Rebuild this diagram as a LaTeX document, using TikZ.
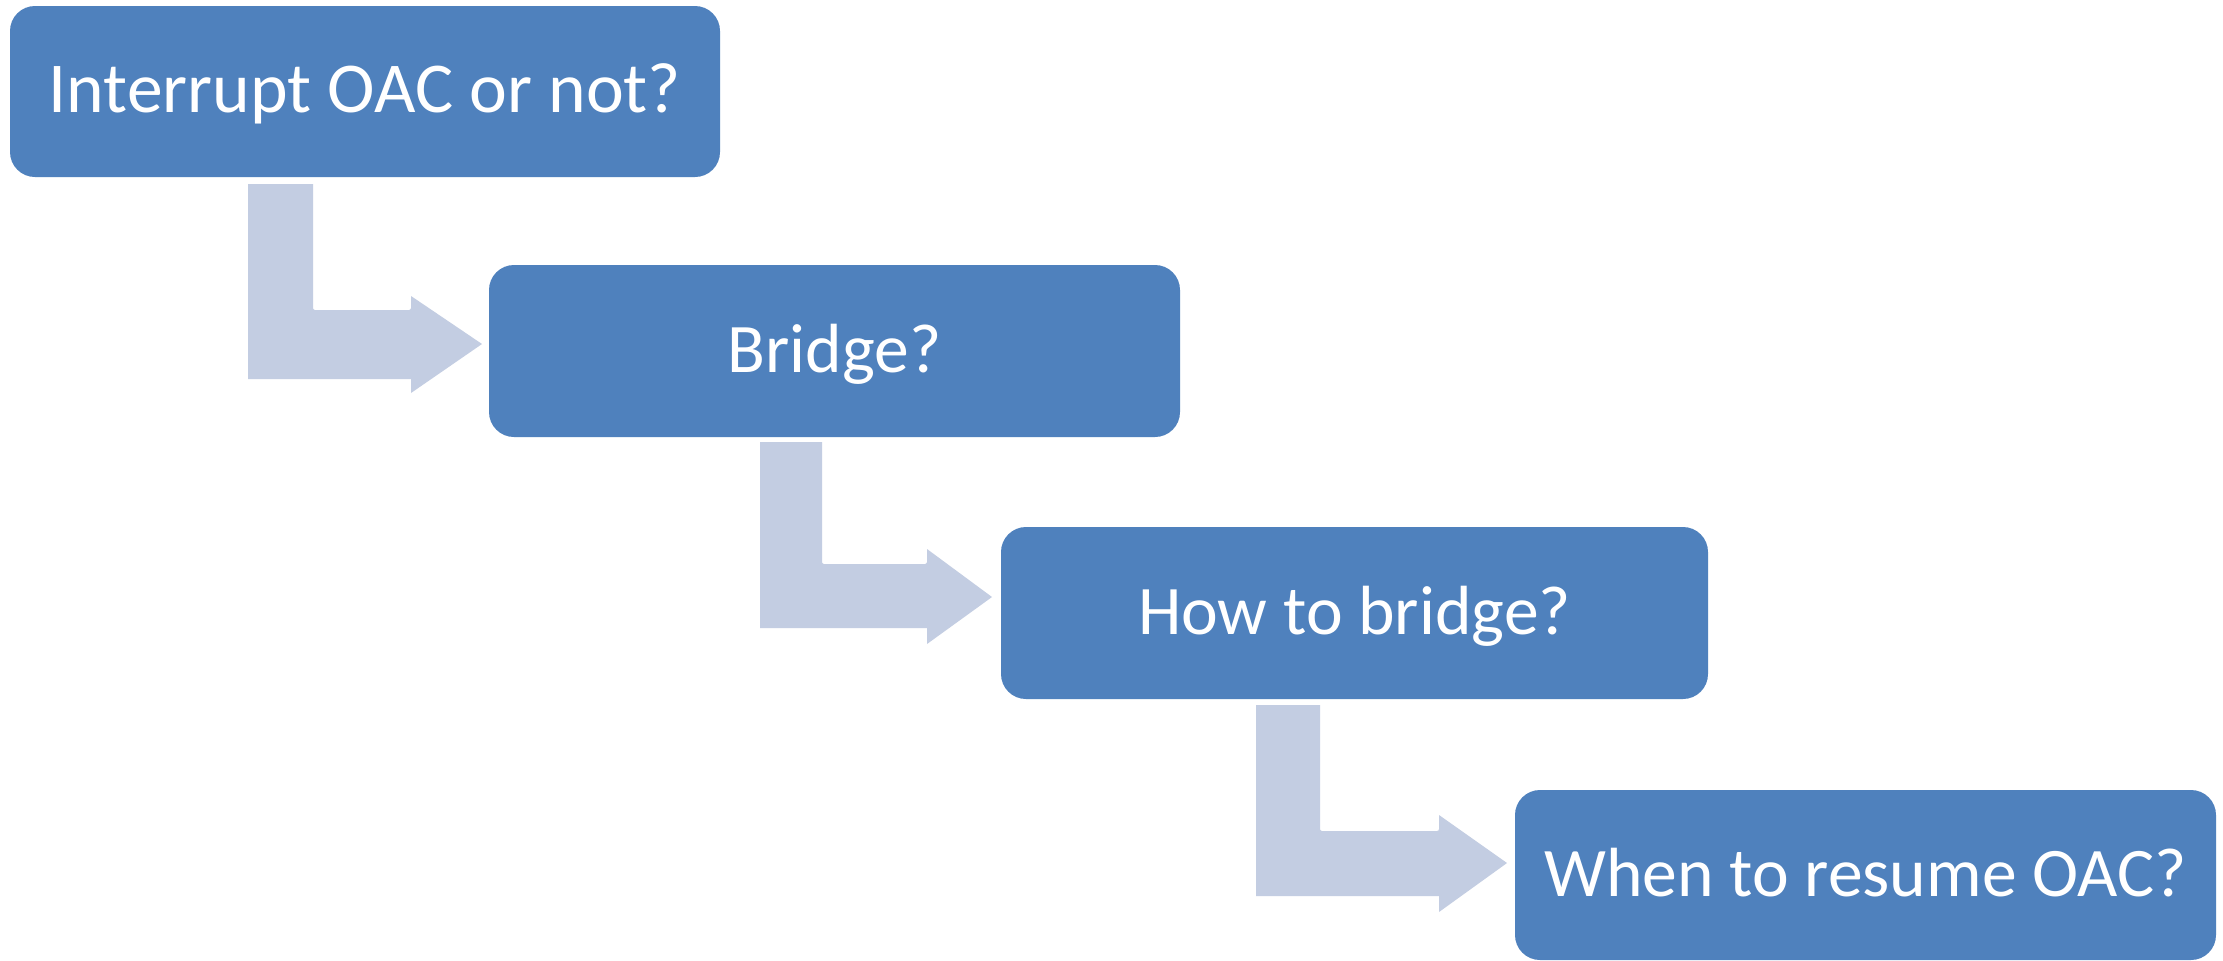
\documentclass[tikz,border=0pt]{standalone}
\usepackage{fontspec}
\setmainfont{Carlito}
\definecolor{boxblue}{HTML}{4F81BD}
\definecolor{arrowgrey}{HTML}{C3CDE2}
\newcommand{\qtext}[1]{\raisebox{-10.6pt}[0pt][0pt]{#1}}
\begin{document}
\begin{tikzpicture}[x=0.5pt,y=-0.5pt,
  qbox/.style={rectangle, rounded corners=12.5pt, fill=boxblue, draw=none,
    text=white, font=\fontsize{34.8}{40}\selectfont, inner sep=0pt},
  bentarrow/.style={fill=arrowgrey, draw=none}]
\useasboundingbox (0,0) rectangle (2223,960);
\fill[white] (0,0) rectangle (2223,960);
\node[qbox, minimum width=355pt, minimum height=85.5pt] (b1) at (365,91.5) {\qtext{\fontsize{35.8}{40}\selectfont Interrupt OAC or not?}};
\node[qbox, minimum width=345.5pt, minimum height=86pt] (b2) at (834.5,351) {\qtext{Bridge?}};
\node[qbox, minimum width=353.5pt, minimum height=86pt] (b3) at (1354.5,613) {\qtext{How to bridge?}};
\node[qbox, minimum width=350.5pt, minimum height=85pt] (b4) at (1865.5,875) {\qtext{When to resume OAC?}};
% bent arrows
\fill[bentarrow] (248,184) -- (313,184) -- (313,306) [rounded corners=1pt] -- (313,310) -- (411,310) [sharp corners] -- (411,296) -- (482,344) -- (411,393) -- (411,379) -- (248,379) -- cycle;
\fill[bentarrow] (760,442) -- (822,442) -- (822,560) [rounded corners=1pt] -- (822,564) -- (927,564) [sharp corners] -- (927,549) -- (992,597) -- (927,644) -- (927,628) -- (760,628) -- cycle;
\fill[bentarrow] (1256,705) -- (1320,705) -- (1320,827) [rounded corners=1pt] -- (1320,831) -- (1439,831) [sharp corners] -- (1439,815) -- (1507,863) -- (1439,912) -- (1439,896) -- (1256,896) -- cycle;
\end{tikzpicture}
\end{document}
